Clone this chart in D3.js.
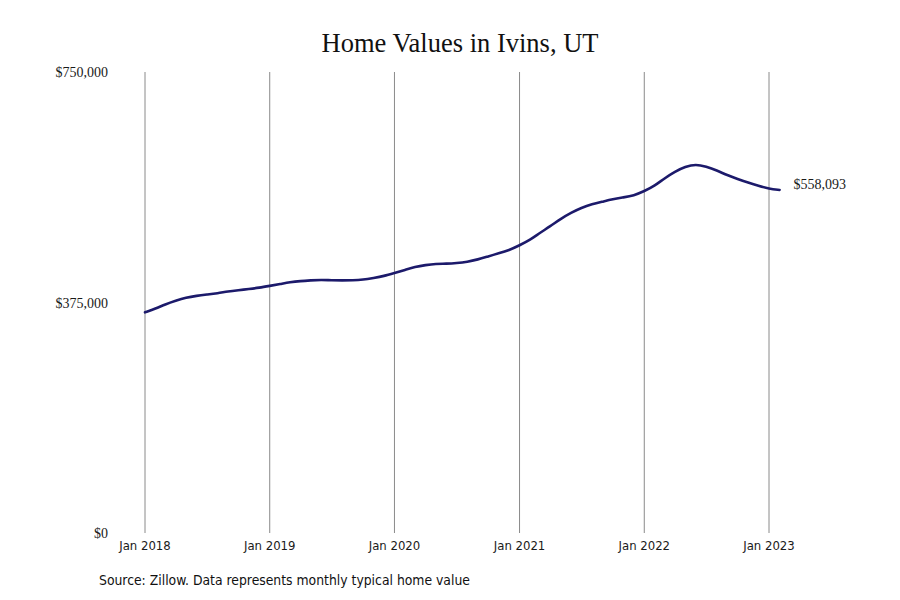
<!DOCTYPE html>
<html>
<head>
<meta charset="utf-8">
<script src="https://cdn.jsdelivr.net/npm/d3@7"></script>
<style>
  body { margin: 0; background: #fff; }
  .serif { font-family: "Liberation Serif", "DejaVu Serif", serif; }
  .narrow { font-family: "Liberation Sans Narrow", "DejaVu Sans Condensed", "Roboto Condensed", sans-serif; font-stretch: condensed; }
</style>
</head>
<body>
<div id="chart"></div>
<script>
//____________________________DATA________________________//
const START_MONTH = new Date(2018, 0, 1)

// monthly typical home value, Jan 2018 .. Feb 2023
const homeValues = [
    359000, 365000, 372000, 378000, 383000, 386000, 388000, 390000, 393000, 395000, 397000, 399000,
    402000, 405000, 408000, 410000, 411000, 412000, 411000, 411000, 411000, 412000, 415000, 418000,
    423000, 428000, 433000, 436000, 438000, 438000, 439000, 441000, 445000, 450000, 455000, 460000,
    468000, 477000, 488000, 499000, 511000, 521000, 529000, 535000, 539000, 543000, 546000, 549000,
    556000, 565000, 577000, 588000, 596000, 600000, 596000, 590000, 582000, 576000, 570000, 565000,
    560000, 558093
]

const yTicks = [0, 375000, 750000]
const xTickYears = [2018, 2019, 2020, 2021, 2022, 2023]

const series = homeValues.map((v, i) => ({
    date: d3.timeMonth.offset(START_MONTH, i),
    value: v
}))

//____________________________CHART ELEMENTS________________________//
const WIDTH = 900
const HEIGHT = 600
const margin = {top: 72, right: 131, bottom: 67, left: 145}

const svg = d3.select('#chart').append('svg')
    .attr('width', WIDTH)
    .attr('height', HEIGHT)

const x = d3.scaleTime()
    .domain([new Date(2018, 0, 1), new Date(2023, 0, 1)])
    .range([margin.left, WIDTH - margin.right])

const y = d3.scaleLinear()
    .domain([0, 750000])
    .range([HEIGHT - margin.bottom, margin.top])

const money = d3.format('$,')

// TITLE
svg.append('text')
    .attr('class', 'serif')
    .attr('x', 460)
    .attr('y', 52)
    .attr('text-anchor', 'middle')
    .attr('font-size', 26.5)
    .attr('fill', '#111')
    .text('Home Values in Ivins, UT')

// VERTICAL GRIDLINES
svg.append('g')
    .selectAll('line')
    .data(xTickYears)
    .join('line')
    .attr('x1', d => x(new Date(d, 0, 1)))
    .attr('x2', d => x(new Date(d, 0, 1)))
    .attr('y1', y(750000))
    .attr('y2', y(0))
    .attr('stroke', '#8a8a8a')
    .attr('stroke-width', 1)

// Y LABELS
svg.append('g')
    .selectAll('text')
    .data(yTicks)
    .join('text')
    .attr('class', 'serif')
    .attr('x', 108)
    .attr('y', d => y(d) + 5)
    .attr('text-anchor', 'end')
    .attr('font-size', 14)
    .attr('fill', '#1a1a1a')
    .text(d => money(d))

// X LABELS
svg.append('g')
    .selectAll('text')
    .data(xTickYears)
    .join('text')
    .attr('class', 'narrow')
    .attr('x', d => x(new Date(d, 0, 1)))
    .attr('y', 550)
    .attr('text-anchor', 'middle')
    .attr('font-size', 13)
    .attr('fill', '#1a1a1a')
    .text(d => `Jan ${d}`)

// LINE
const line = d3.line()
    .x(d => x(d.date))
    .y(d => y(d.value))
    .curve(d3.curveBasis)

svg.append('path')
    .datum(series)
    .attr('d', line)
    .attr('fill', 'none')
    .attr('stroke', '#1c1a6b')
    .attr('stroke-width', 2.6)
    .attr('stroke-linejoin', 'round')
    .attr('stroke-linecap', 'round')

// END LABEL
const last = series[series.length - 1]
svg.append('text')
    .attr('class', 'serif')
    .attr('x', x(last.date) + 14)
    .attr('y', y(last.value) - 1)
    .attr('font-size', 14)
    .attr('fill', '#1a1a1a')
    .text(money(last.value))

// SOURCE
svg.append('text')
    .attr('class', 'narrow')
    .attr('x', 99)
    .attr('y', 585)
    .attr('font-size', 13.8)
    .attr('fill', '#111')
    .text('Source: Zillow. Data represents monthly typical home value')
</script>
</body>
</html>
